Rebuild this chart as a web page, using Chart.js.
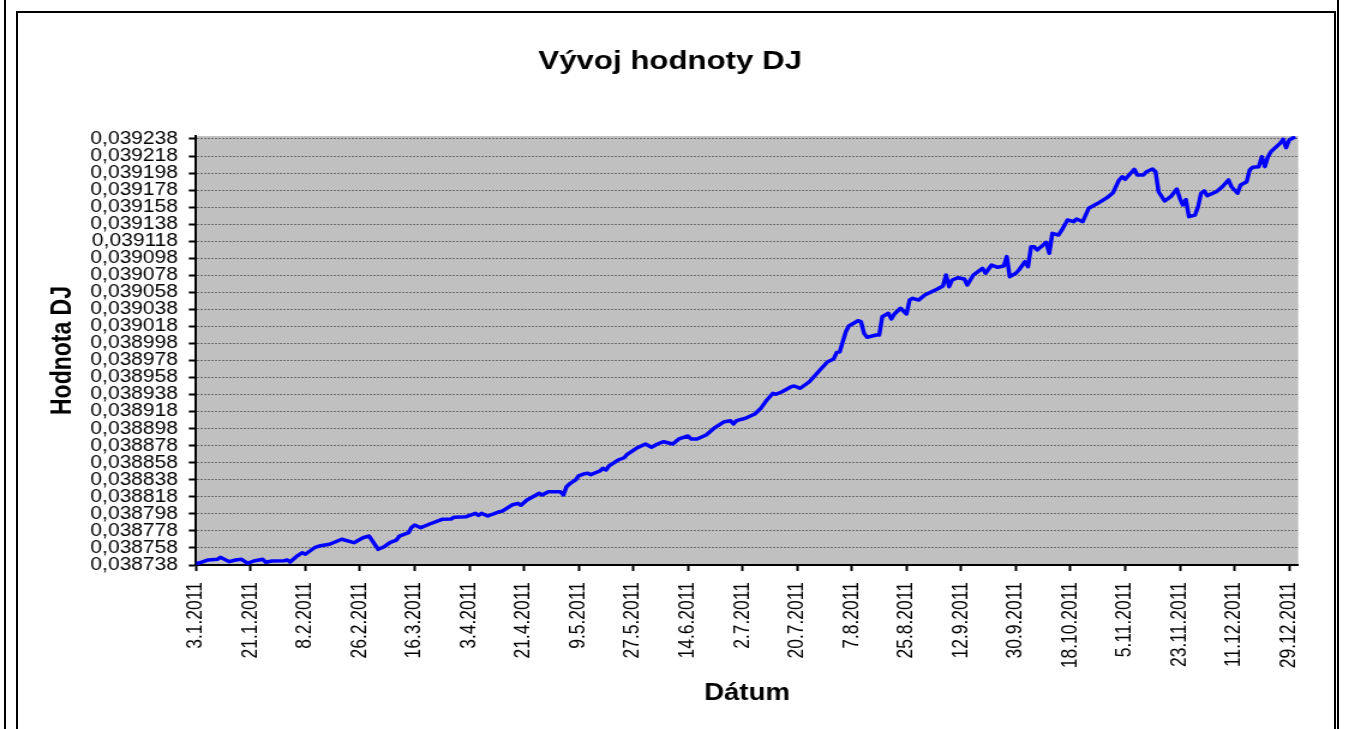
<!DOCTYPE html>
<html>
<head>
<meta charset="utf-8">
<title>Vývoj hodnoty DJ</title>
<script src="https://cdn.jsdelivr.net/npm/chart.js@4"></script>
<style>
  html, body { margin: 0; padding: 0; background: #fff; overflow: hidden; }
  body { width: 1349px; height: 729px; position: relative; }
  /* the original Excel picture is stretched sideways, so the chart is drawn narrower and scaled */
  #wrap { position: absolute; left: 0; top: 0; width: 1124px; height: 729px;
          transform: scaleX(1.2002); transform-origin: 0 0; }
  .frame { position: absolute; left: 16px; top: 11px; width: 1316px; height: 760px;
           border: 2px solid #000; }
  .vline { position: absolute; top: 0; width: 2px; height: 729px; background: #000; }
</style>
</head>
<body>
<div id="wrap"><canvas id="djChart" width="1124" height="729"></canvas></div>
<div class="frame"></div>
<div class="vline" style="left:4px"></div>
<div class="vline" style="left:1337px"></div>
<script>
// days counted from 3.1.2011
var dayIndex = [
  0, 1, 4, 7, 8, 11, 13, 15, 17, 19, 22, 23, 25, 29, 30, 31, 33, 35, 36, 39,
  41, 44, 46, 48, 52, 55, 57, 60, 62, 64, 66, 67, 70, 71, 72, 74, 77, 81, 84, 85,
  89, 92, 93, 94, 96, 97, 100, 101, 104, 106, 107, 109, 112, 113, 114, 116, 120, 121, 122, 123,
  125, 126, 128, 129, 130, 133, 134, 135, 136, 139, 141, 142, 145, 148, 150, 152, 154, 157, 159, 162,
  163, 165, 168, 171, 174, 176, 177, 178, 181, 184, 186, 188, 190, 191, 193, 196, 197, 199, 202, 206,
  208, 210, 211, 212, 213, 214, 215, 218, 219, 220, 221, 224, 225, 226, 228, 229, 230, 232, 234, 235,
  236, 238, 240, 244, 246, 247, 248, 249, 251, 253, 254, 256, 259, 260, 262, 264, 266, 267, 268, 270,
  271, 273, 274, 275, 276, 277, 279, 280, 281, 282, 284, 285, 287, 289, 290, 292, 294, 297, 300, 302,
  304, 305, 306, 309, 310, 312, 313, 315, 316, 317, 319, 321, 323, 324, 325, 326, 327, 329, 330, 331,
  332, 333, 336, 338, 340, 341, 343, 344, 346, 347, 348, 350, 351, 352, 353, 354, 357, 358, 359, 360,
  362
];

var djValues = [
  0.0387400, 0.0387403, 0.0387439, 0.0387447, 0.0387470, 0.0387419, 0.0387439, 0.0387447, 0.0387400, 0.0387427,
  0.0387447, 0.0387412, 0.0387427, 0.0387430, 0.0387439, 0.0387415, 0.0387477, 0.0387524, 0.0387506, 0.0387583,
  0.0387607, 0.0387623, 0.0387653, 0.0387682, 0.0387642, 0.0387700, 0.0387720, 0.0387564, 0.0387595, 0.0387646,
  0.0387673, 0.0387720, 0.0387759, 0.0387822, 0.0387849, 0.0387818, 0.0387861, 0.0387916, 0.0387920, 0.0387940,
  0.0387947, 0.0387987, 0.0387963, 0.0387987, 0.0387955, 0.0387967, 0.0388006, 0.0388014, 0.0388084, 0.0388104,
  0.0388081, 0.0388143, 0.0388202, 0.0388222, 0.0388202, 0.0388240, 0.0388240, 0.0388202, 0.0388299, 0.0388331,
  0.0388378, 0.0388425, 0.0388452, 0.0388456, 0.0388440, 0.0388483, 0.0388515, 0.0388495, 0.0388542, 0.0388612,
  0.0388639, 0.0388679, 0.0388750, 0.0388800, 0.0388761, 0.0388800, 0.0388827, 0.0388800, 0.0388859, 0.0388894,
  0.0388859, 0.0388859, 0.0388906, 0.0388996, 0.0389062, 0.0389074, 0.0389035, 0.0389074, 0.0389102, 0.0389152,
  0.0389219, 0.0389317, 0.0389395, 0.0389384, 0.0389414, 0.0389473, 0.0389481, 0.0389454, 0.0389531, 0.0389689,
  0.0389766, 0.0389798, 0.0389876, 0.0389883, 0.0390001, 0.0390118, 0.0390185, 0.0390247, 0.0390236, 0.0390099,
  0.0390053, 0.0390080, 0.0390080, 0.0390294, 0.0390334, 0.0390267, 0.0390326, 0.0390393, 0.0390326, 0.0390490,
  0.0390510, 0.0390490, 0.0390549, 0.0390616, 0.0390655, 0.0390784, 0.0390646, 0.0390725, 0.0390752, 0.0390737,
  0.0390666, 0.0390784, 0.0390862, 0.0390804, 0.0390901, 0.0390874, 0.0390889, 0.0390999, 0.0390764, 0.0390804,
  0.0390842, 0.0390940, 0.0390881, 0.0391116, 0.0391116, 0.0391077, 0.0391136, 0.0391168, 0.0391038, 0.0391273,
  0.0391253, 0.0391304, 0.0391429, 0.0391409, 0.0391441, 0.0391409, 0.0391567, 0.0391625, 0.0391691, 0.0391750,
  0.0391899, 0.0391937, 0.0391907, 0.0392024, 0.0391957, 0.0391957, 0.0391996, 0.0392028, 0.0391996, 0.0391761,
  0.0391652, 0.0391703, 0.0391793, 0.0391684, 0.0391605, 0.0391670, 0.0391468, 0.0391488, 0.0391585, 0.0391743,
  0.0391770, 0.0391715, 0.0391761, 0.0391820, 0.0391899, 0.0391820, 0.0391743, 0.0391840, 0.0391879, 0.0392016,
  0.0392048, 0.0392055, 0.0392172, 0.0392055, 0.0392172, 0.0392231, 0.0392329, 0.0392376, 0.0392278, 0.0392368,
  0.0392407
];

var xTickLabels = [
  "3.1.2011", "21.1.2011", "8.2.2011", "26.2.2011", "16.3.2011", "3.4.2011", "21.4.2011",
  "9.5.2011", "27.5.2011", "14.6.2011", "2.7.2011", "20.7.2011", "7.8.2011", "25.8.2011",
  "12.9.2011", "30.9.2011", "18.10.2011", "5.11.2011", "23.11.2011", "11.12.2011", "29.12.2011"
];

var yTicks = [
  0.038738, 0.038758, 0.038778, 0.038798, 0.038818, 0.038838, 0.038858, 0.038878, 0.038898,
  0.038918, 0.038938, 0.038958, 0.038978, 0.038998, 0.039018, 0.039038, 0.039058, 0.039078,
  0.039098, 0.039118, 0.039138, 0.039158, 0.039178, 0.039198, 0.039218, 0.039238
];

function dayOf(label) {
  var p = label.split(".");
  return (Date.UTC(+p[2], +p[1] - 1, +p[0]) - Date.UTC(2011, 0, 3)) / 86400000;
}
var xTickDays = xTickLabels.map(dayOf);

var points = dayIndex.map(function (d, i) {
  return { x: d, y: djValues[i] };
});

var FONT = "'Liberation Sans', Arial, sans-serif";

var plotBackground = {
  id: "plotBackground",
  beforeDraw: function (chart) {
    var a = chart.chartArea;
    var ctx = chart.ctx;
    ctx.save();
    ctx.fillStyle = "#c0c0c0";
    ctx.fillRect(a.left, a.top, a.right - a.left, a.bottom - a.top);
    ctx.restore();
  },
};

new Chart(document.getElementById("djChart"), {
  type: "line",
  data: {
    datasets: [
      {
        label: "DJ",
        data: points,
        borderColor: "#0000ff",
        borderWidth: 3.5,
        pointRadius: 0,
        tension: 0,
        borderJoinStyle: "round",
      },
    ],
  },
  options: {
    responsive: false,
    devicePixelRatio: 1,
    animation: false,
    layout: { padding: { left: 35, right: 42.3, top: 0, bottom: 0 } },
    plugins: {
      legend: { display: false },
      tooltip: { enabled: false },
      title: {
        display: true,
        text: "Vývoj hodnoty DJ",
        color: "#000",
        font: { family: FONT, size: 26, weight: "bold" },
        padding: { top: 46.4, bottom: 58.4 },
      },
    },
    scales: {
      x: {
        type: "linear",
        min: 0,
        max: 363,
        afterBuildTicks: function (scale) {
          scale.ticks = xTickDays.map(function (v) { return { value: v }; });
        },
        afterFit: function (scale) {
          scale.height = 164;
        },
        ticks: {
          autoSkip: false,
          minRotation: 90,
          maxRotation: 90,
          padding: 11,
          color: "#000",
          font: { family: FONT, size: 17.5 },
          callback: function (value) {
            var i = xTickDays.indexOf(value);
            return i >= 0 ? xTickLabels[i] : "";
          },
        },
        grid: {
          drawOnChartArea: false,
          drawTicks: true,
          tickLength: 6,
          tickColor: "#000",
          tickWidth: 2,
        },
        border: { color: "#000", width: 2 },
        title: {
          display: true,
          text: "Dátum",
          color: "#000",
          font: { family: FONT, size: 23, weight: "bold" },
          padding: { top: 4, bottom: 22 },
        },
      },
      y: {
        min: 0.038738,
        max: 0.0392415,
        afterBuildTicks: function (scale) {
          scale.ticks = yTicks.map(function (v) { return { value: v }; });
        },
        afterFit: function (scale) {
          scale.width = 128.3;
        },
        ticks: {
          autoSkip: false,
          padding: 9,
          color: "#000",
          font: { family: FONT, size: 17.5 },
          callback: function (value) {
            return value.toFixed(6).replace(".", ",");
          },
        },
        grid: {
          color: "#6e6e6e",
          lineWidth: 1,
          tickLength: 6,
          tickColor: "#000",
          tickWidth: 2,
        },
        border: { color: "#000", width: 2, dash: [2, 1] },
        title: {
          display: true,
          text: "Hodnota DJ",
          color: "#000",
          font: { family: FONT, size: 23, weight: "bold" },
          padding: { top: 4, bottom: 4 },
        },
      },
    },
  },
  plugins: [plotBackground],
});
</script>
</body>
</html>
